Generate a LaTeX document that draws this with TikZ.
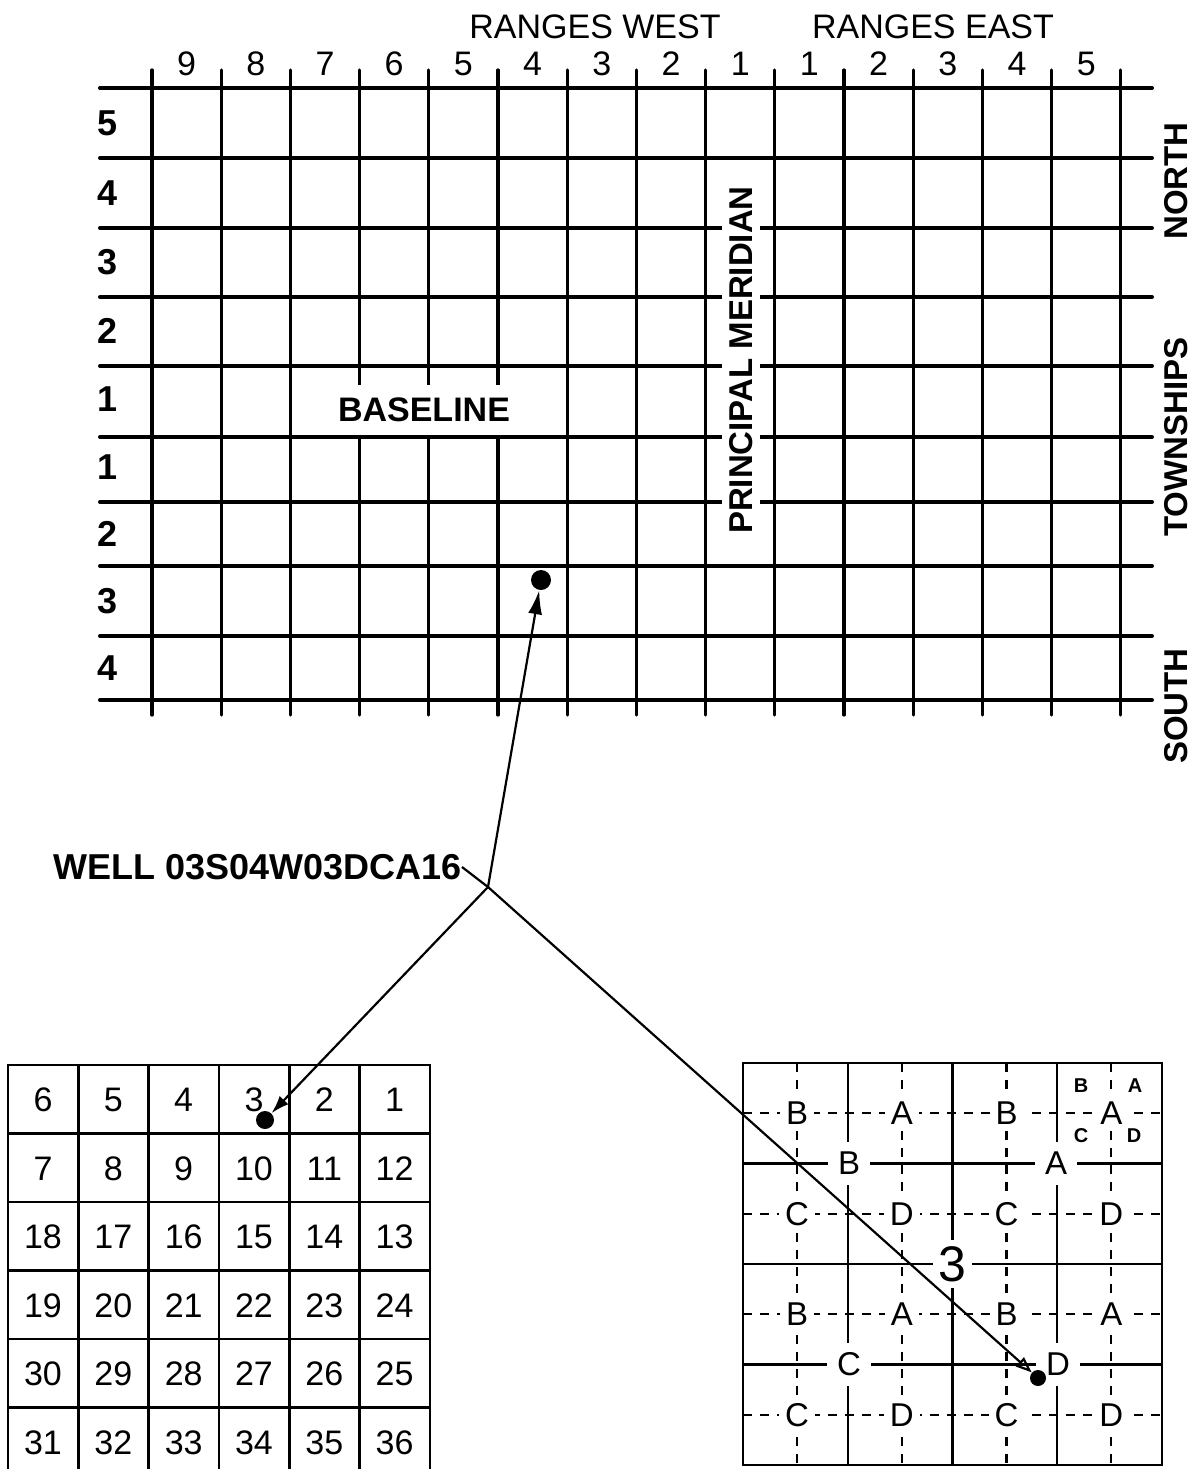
\documentclass[tikz,border=0pt]{standalone}
\usepackage{fontspec}
\setmainfont{Liberation Sans}
\usepackage{tikz}
\usetikzlibrary{arrows.meta,calc,positioning}

\newcommand{\pxsize}[1]{\fontsize{#1}{#1}\selectfont}

\tikzset{
  twpline/.style={line width=2pt,line cap=round},
  rngline/.style={line width=1.6pt,line cap=round},
  secline/.style={line width=1.4pt},
  qline/.style={line width=1.2pt},
  qqline/.style={line width=1.1pt,dash pattern=on 4.5pt off 4pt},
  wire/.style={line width=1.1pt},
  hdr/.style={font=\pxsize{17}},
  rowlbl/.style={font=\pxsize{18}\bfseries},
  sidelbl/.style={font=\pxsize{16.5}\bfseries,rotate=90},
  seclbl/.style={font=\pxsize{17}},
  qqlbl/.style={font=\pxsize{16.5},fill=white,inner sep=3pt},
  wellpt/.style={circle,fill,inner sep=0pt,minimum size=#1},
  wellpt/.default=9pt
}

\begin{document}
\begin{tikzpicture}[x=0.5pt,y=-0.5pt]
  \useasboundingbox (0,0) rectangle (1197,1469);

  % township grid
  \foreach \y in {88,158,228,297,366,437,502,566,636,700}
    \draw[twpline] (100,\y) -- (1152,\y);
  \foreach \i in {0,...,14}
    \draw[rngline] ({152+69.2*\i},70) -- ({152+69.2*\i},715);

  \node[hdr] (west) at (595,27) {RANGES WEST};
  \node[hdr] (east) at (933,27) {RANGES EAST};
  \foreach \n [count=\i from 0] in {9,8,7,6,5,4,3,2,1,1,2,3,4,5}
    \node[hdr] (rng\i) at ({186.6+69.2*\i},64) {\n};
  \foreach \n/\y [count=\j] in {5/123,4/193,3/262,2/331,1/399,1/467,2/534,3/601,4/668}
    \node[rowlbl] (twp\j) at (108,\y) {\n};

  \node[rowlbl,font=\pxsize{17}\bfseries,fill=white,minimum height=25pt,inner xsep=1pt] (baseline) at (424,410) {BASELINE};
  \node[sidelbl,fill=white,minimum height=19pt] (meridian) at (741,360) {PRINCIPAL MERIDIAN};
  \node[sidelbl] (north) at (1176,181) {NORTH};
  \node[sidelbl] (townships) at (1176,437) {TOWNSHIPS};
  \node[sidelbl] (south) at (1176,706) {SOUTH};
  \node[wellpt=10pt] (twpwell) at (541,580) {};

  % well number
  \node[font=\pxsize{18}\bfseries,anchor=east,inner sep=0pt] (wellname) at (462,867) {WELL 03S04W03DCA16};
  \coordinate (junction) at (488,887);

  % sections of township
  \draw[secline] (8,1065) rectangle (430,1480);
  \foreach \i in {1,...,5}
    \draw[secline] ({8+70.33*\i},1065) -- ({8+70.33*\i},1480);
  \foreach \j in {1,...,5}
    \draw[secline] (8,{1065+68.5*\j}) -- (430,{1065+68.5*\j});
  \foreach \row [count=\r from 0] in {{6,5,4,3,2,1},{7,8,9,10,11,12},{18,17,16,15,14,13},{19,20,21,22,23,24},{30,29,28,27,26,25},{31,32,33,34,35,36}}
    \foreach \n [count=\c from 0] in \row
      \node[seclbl] (sec\n) at ({43+70.33*\c},{1100+68.5*\r}) {\n};
  \node[wellpt=9pt] (secwell) at (265,1120) {};

  % quarters of section 3
  \draw[secline] (743,1063) rectangle (1162,1465);
  \foreach \i in {1,2,3} {
    \draw[qline] ({743+104.75*\i},1063) -- ({743+104.75*\i},1465);
    \draw[qline] (743,{1063+100.5*\i}) -- (1162,{1063+100.5*\i});
  }
  \foreach \i in {0,...,3} {
    \draw[qqline] ({797+104.75*\i},1063) -- ({797+104.75*\i},1465);
    \draw[qqline] (743,{1113.25+100.5*\i}) -- (1162,{1113.25+100.5*\i});
  }
  \foreach \l [count=\k from 0] in {B,A,B,A,C,D,C,D,B,A,B,A,C,D,C,D}
    \node[qqlbl] (qq\k) at ({797+104.75*mod(\k,4)},{1113.25+100.5*floor(\k/4)}) {\l};
  \foreach \l/\x/\y in {B/849/1163.5,A/1056/1163.5,C/849/1364.5,D/1058/1364.5}
    \node[qqlbl,inner sep=5pt] (q\l) at (\x,\y) {\l};
  \node[qqlbl,font=\pxsize{25},inner sep=3pt] (secnum) at (952.5,1264) {3};
  \foreach \l/\x/\y in {B/1081/1086,A/1135/1086,C/1081/1136,D/1134/1136}
    \node[font=\pxsize{10}\bfseries] (qqq\l) at (\x,\y) {\l};
  \node[wellpt=8pt] (qqwell) at (1038,1378) {};

  % connectors
  \draw[wire] (wellname.east) -- (junction);
  \draw[wire,-{Latex[length=12pt,width=7pt]}] (junction) -- (twpwell);
  \draw[wire,-{Latex[length=9pt,width=6pt]}] (junction) -- (secwell);
  \draw[wire,-{Triangle[open,length=8pt,width=6pt]}] (junction) -- (qqwell);
\end{tikzpicture}
\end{document}
